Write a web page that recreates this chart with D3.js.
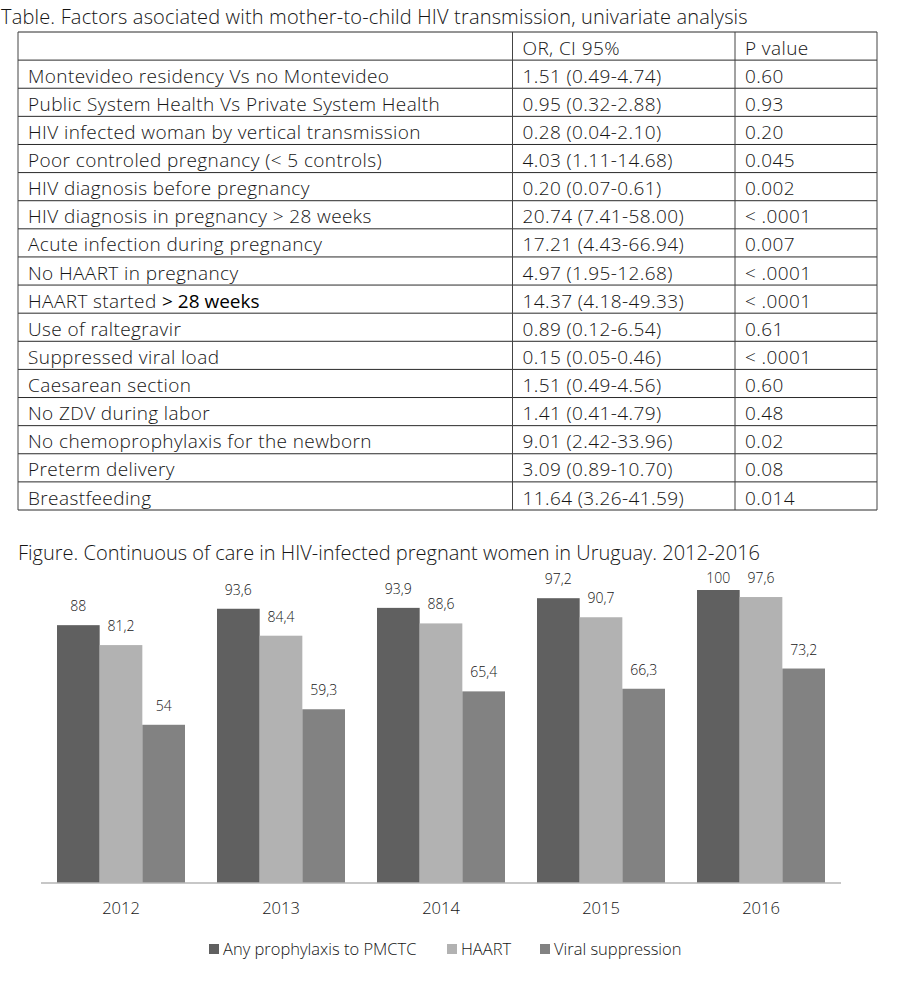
<!DOCTYPE html>
<html><head><meta charset="utf-8">
<script src="https://cdn.jsdelivr.net/npm/d3@7/dist/d3.min.js"></script>
<style>
html,body{margin:0;padding:0;background:#fff;}
svg text{font-family:"Open Sans",Lato,sans-serif;fill:#151515;}
</style></head>
<body>
<svg id="c" width="900" height="1008"></svg>
<script>
const tableTitle = "Table. Factors asociated with mother-to-child HIV transmission, univariate analysis";
const tableHeader = ["", "OR, CI 95%", "P value"];
const factors = [
  "Montevideo residency Vs no Montevideo",
  "Public System Health Vs Private System Health",
  "HIV infected woman by vertical transmission",
  "Poor controled pregnancy (< 5 controls)",
  "HIV diagnosis before pregnancy",
  "HIV diagnosis in pregnancy > 28 weeks",
  "Acute infection during pregnancy",
  "No HAART in pregnancy",
  "HAART started ",
  "Use of raltegravir",
  "Suppressed viral load",
  "Caesarean section",
  "No ZDV during labor",
  "No chemoprophylaxis for the newborn",
  "Preterm delivery",
  "Breastfeeding"
];
const orCI = ["1.51 (0.49-4.74)","0.95 (0.32-2.88)","0.28 (0.04-2.10)","4.03 (1.11-14.68)","0.20 (0.07-0.61)","20.74 (7.41-58.00)","17.21 (4.43-66.94)","4.97 (1.95-12.68)","14.37 (4.18-49.33)","0.89 (0.12-6.54)","0.15 (0.05-0.46)","1.51 (0.49-4.56)","1.41 (0.41-4.79)","9.01 (2.42-33.96)","3.09 (0.89-10.70)","11.64 (3.26-41.59)"];
const pValues = ["0.60","0.93","0.20","0.045","0.002","< .0001","0.007","< .0001","< .0001","0.61","< .0001","0.60","0.48","0.02","0.08","0.014"];

const figTitle = "Figure. Continuous of care in HIV-infected pregnant women in Uruguay. 2012-2016";
const years = ["2012","2013","2014","2015","2016"];
const seriesNames = ["Any prophylaxis to PMCTC","HAART","Viral suppression"];
const prophylaxis = [88, 93.6, 93.9, 97.2, 100];
const haart = [81.2, 84.4, 88.6, 90.7, 97.6];
const viral = [54, 59.3, 65.4, 66.3, 73.2];
const colors = ["#606060","#b2b2b2","#828282"];

const svg = d3.select("#c");

// ---------- Table ----------
svg.append("text").attr("x",1).attr("y",24).attr("font-size",20).attr("letter-spacing",0.17).attr("font-weight",300).text(tableTitle);

const rows = [tableHeader].concat(factors.map((f,i)=>[f, orCI[i], pValues[i]]));
const rowY = d3.scaleBand().domain(d3.range(rows.length)).range([32,510]);
const colX = [18, 512.5, 735, 877];
const tg = svg.append("g");
rows.forEach((r,i)=>{
  const y0 = rowY(i);
  r.forEach((cell,j)=>{
    const t = tg.append("text").attr("x", colX[j]+10).attr("y", y0+rowY.bandwidth()-5.5)
      .attr("font-size",19).attr("letter-spacing",0.4).attr("font-weight",300).text(cell);
    if(i===9 && j===0){ t.append("tspan").attr("font-weight",400).attr("letter-spacing",0).attr("fill","#000").text("> 28 weeks"); }
  });
});
tg.selectAll("line.h").data(d3.range(rows.length+1)).join("line")
  .attr("x1",colX[0]).attr("x2",colX[3])
  .attr("y1",i=>i<rows.length?rowY(i):510).attr("y2",i=>i<rows.length?rowY(i):510)
  .attr("stroke","#2a2a2a").attr("stroke-width",1);
tg.selectAll("line.v").data(colX).join("line")
  .attr("x1",d=>d).attr("x2",d=>d).attr("y1",32).attr("y2",510)
  .attr("stroke","#444").attr("stroke-width",1);

// ---------- Figure ----------
svg.append("text").attr("x",18).attr("y",560).attr("font-size",20).attr("letter-spacing",0).attr("font-weight",300).text(figTitle);

const plotTop = 590, plotBottom = 883;
const x0 = d3.scaleBand().domain(years).range([41,841]).paddingInner(0.2).paddingOuter(0.1);
const x1 = d3.scaleBand().domain(d3.range(3)).range([0,x0.bandwidth()]);
const y = d3.scaleLinear().domain([0,100]).range([plotBottom,plotTop]);
const seriesVals = [prophylaxis, haart, viral];

const fg = svg.append("g");
years.forEach((yr,i)=>{
  seriesVals.forEach((vals,s)=>{
    const v = vals[i];
    const bx = x0(yr)+x1(s);
    fg.append("rect").attr("x",bx).attr("y",y(v)).attr("width",x1.bandwidth()).attr("height",plotBottom-y(v)).attr("fill",colors[s]);
    fg.append("text").attr("x",bx+x1.bandwidth()/2).attr("y",Math.max(y(v)-14, plotTop-7))
      .attr("text-anchor","middle").attr("font-size",14).attr("font-weight",300)
      .text(String(v).replace(".",","));
  });
});
const xAxis = fg.append("g").attr("transform",`translate(0,${plotBottom})`)
  .call(d3.axisBottom(x0).tickSize(0).tickPadding(19).tickSizeOuter(0));
xAxis.select(".domain").attr("stroke","#b4b4b4").attr("stroke-width",1.5).attr("d","M41,0H841");
xAxis.selectAll("text").attr("font-size",16.5).attr("font-weight",300).attr("fill","#151515").attr("font-family","'Open Sans',sans-serif");

// legend
const legX = [209, 447, 540];
const lg = svg.append("g");
seriesNames.forEach((n,s)=>{
  lg.append("rect").attr("x",legX[s]).attr("y",944).attr("width",10).attr("height",10).attr("fill",colors[s]);
  lg.append("text").attr("x",legX[s]+14).attr("y",955).attr("font-size",16.5).attr("font-weight",300).text(n);
});
</script>
</body></html>
